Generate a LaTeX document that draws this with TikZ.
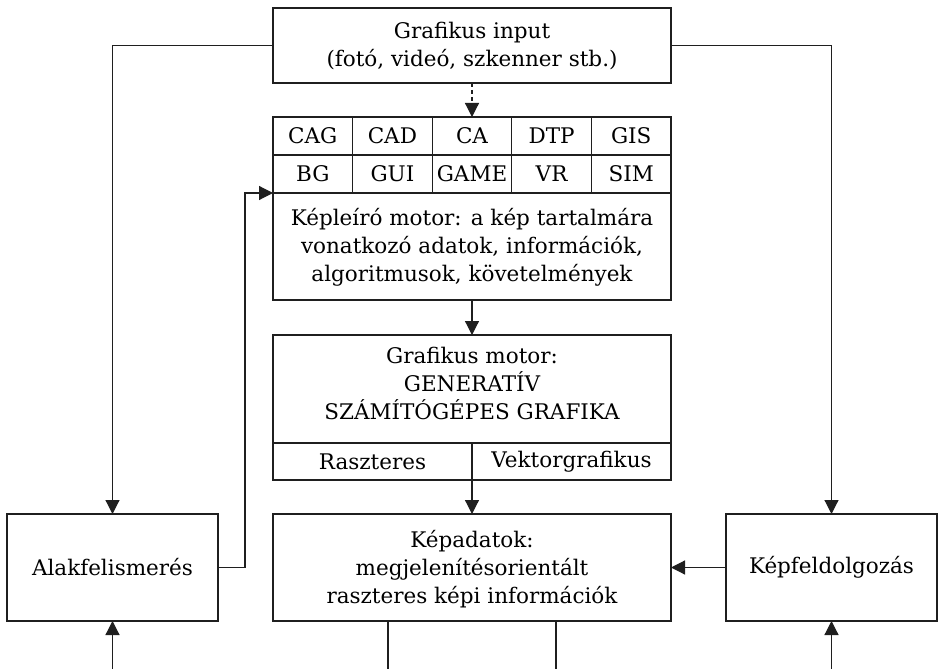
\documentclass[tikz,border=0pt]{standalone}
\usepackage{fontspec}
\setmainfont{DejaVu Serif}
\usetikzlibrary{arrows.meta}
\begin{document}
\begin{tikzpicture}[x=1pt,y=-1pt,
  every node/.style={font=\fontsize{21.5}{28}\selectfont, inner sep=0pt, outer sep=0pt},
  box/.style={draw=black!88, line width=1.2pt, rectangle, align=center},
  txt/.style={align=center},
  conn/.style={draw=black!88, line width=1.2pt},
  arr/.style={conn, -{Triangle[length=14pt,width=14pt]}},
  dasharr/.style={arr, dash pattern=on 4pt off 3pt}
]
\useasboundingbox (0,0) rectangle (938,669);

% input box
\node[box, minimum width=398pt, minimum height=75pt] (inp) at (472,45.5) {};
\node[txt] (inpt) at (472,46) {Grafikus input\\(fotó, videó, szkenner stb.)};

% application grid
\foreach \lab [count=\i] in {CAG,CAD,CA,DTP,GIS} {
  \node[box, minimum width=79.6pt, minimum height=38pt] (a\i) at ({273+79.6*(\i-0.5)},136) {\lab};
}
\foreach \lab [count=\i] in {BG,GUI,GAME,VR,SIM} {
  \node[box, minimum width=79.6pt, minimum height=38pt] (b\i) at ({273+79.6*(\i-0.5)},174) {\lab};
}

% image description engine
\node[box, minimum width=398pt, minimum height=107pt] (kep) at (472,246.5) {};
\node[txt] (kept) at (472,247) {Képleíró motor: a kép tartalmára\\vonatkozó adatok, információk,\\algoritmusok, követelmények};

% graphics engine
\node[box, minimum width=398pt, minimum height=108pt] (gm) at (472,389) {};
\node[txt] (gmt) at (472,383) {Grafikus motor:\\GENERATÍV\\SZÁMÍTÓGÉPES GRAFIKA};
\node[box, minimum width=199pt, minimum height=37pt] (ras) at (372.5,461.5) {Raszteres};
\node[box, minimum width=199pt, minimum height=37pt] (vek) at (571.5,461.5) {Vektorgrafikus};

% image data
\node[box, minimum width=398pt, minimum height=107pt] (kpa) at (472,567.5) {};
\node[txt] (kpat) at (472,569) {Képadatok:\\megjelenítésorientált\\raszteres képi információk};

% side boxes
\node[box, minimum width=211pt, minimum height=107pt] (alak) at (112.5,567.5) {Alakfelismerés};
\node[box, minimum width=211pt, minimum height=107pt] (kepf) at (831.5,567.5) {Képfeldolgozás};

% free ends at the lower edge
\coordinate (alakin) at (112.5,669);
\coordinate (kepfin) at (831.5,669);
\coordinate (out1) at (388,669);
\coordinate (out2) at (556,669);

% connectors
\draw[arr] (inp.west) -| (alak.north);
\draw[arr] (inp.east) -| (kepf.north);
\draw[dasharr] (inp.south) -- (a3.north);
\draw[arr] (kep.south) -- (gm.north);
\draw[arr] (ras.south east) -- (kpa.north);
\draw[arr] (alak.east) -- (245,567.5) |- (kep.north west);
\draw[arr] (kepf.west) -- (kpa.east);
\draw[arr] (alakin) -- (alak.south);
\draw[arr] (kepfin) -- (kepf.south);
\draw[conn] (kpa.south -| out1) -- (out1);
\draw[conn] (kpa.south -| out2) -- (out2);
\end{tikzpicture}
\end{document}
